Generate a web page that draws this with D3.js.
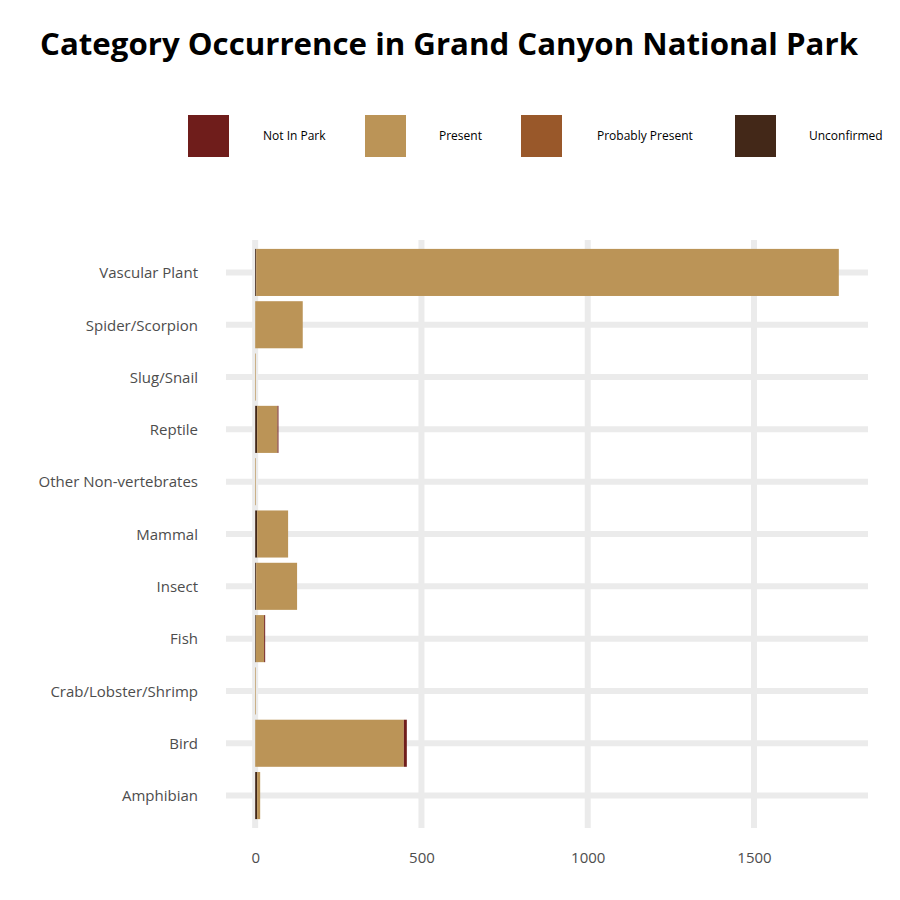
<!DOCTYPE html>
<html>
<head>
<meta charset="utf-8">
<script src="https://cdn.jsdelivr.net/npm/d3@7"></script>
<style>
  body { margin: 0; background: #fff; }
  text { font-family: "Open Sans", "DejaVu Sans", sans-serif; }
</style>
</head>
<body>
<script>
// categories, bottom to top as in the picture
var categories = ["Amphibian", "Bird", "Crab/Lobster/Shrimp", "Fish", "Insect", "Mammal",
    "Other Non-vertebrates", "Reptile", "Slug/Snail", "Spider/Scorpion", "Vascular Plant"];
var statuses = ["Not In Park", "Present", "Probably Present", "Unconfirmed"];
var colors = ["#6f1d1b", "#bb9457", "#99582a", "#432818"];

// counts per category, same order as categories
var notInPark       = [0, 9, 0, 3, 0, 0, 0, 3, 0, 0, 0];
var present         = [9, 447, 2, 25, 123, 93, 2, 61, 2, 143, 1752];
var probablyPresent = [0, 0, 0, 0, 0, 0, 0, 0, 0, 0, 0];
var unconfirmed     = [6, 0, 0, 2, 3, 6, 0, 6, 0, 0, 3];
var xTicks = [0, 500, 1000, 1500];

var rows = categories.map(function(c, i) {
    return {category: c, "Not In Park": notInPark[i], "Present": present[i],
        "Probably Present": probablyPresent[i], "Unconfirmed": unconfirmed[i]};
});

var width = 900, height = 900;
var svg = d3.select("body").append("svg").attr("width", width).attr("height", height);

var panelLeft = 226, panelRight = 868, panelTop = 240, panelBottom = 828;

// stack leftmost first: Unconfirmed, Probably Present, Present, Not In Park
var stackOrder = statuses.slice().reverse();
var series = d3.stack().keys(stackOrder)(rows);
var maxVal = d3.max(series[series.length - 1], function(d) { return d[1]; });

var x = d3.scaleLinear()
    .domain([-0.05 * maxVal, maxVal * 1.05])
    .range([panelLeft, panelRight]);

var y = d3.scaleBand()
    .domain(categories.slice().reverse())
    .range([panelTop, panelBottom])
    .paddingInner(0.1).paddingOuter(0.17);

// grid
svg.append("g").selectAll("line")
    .data(categories).enter().append("line")
    .attr("x1", panelLeft).attr("x2", panelRight)
    .attr("y1", function(d) { return y(d) + y.bandwidth() / 2; })
    .attr("y2", function(d) { return y(d) + y.bandwidth() / 2; })
    .style("stroke", "#ebebeb").style("stroke-width", 6);

svg.append("g").selectAll("line")
    .data(xTicks).enter().append("line")
    .attr("x1", function(d) { return x(d); }).attr("x2", function(d) { return x(d); })
    .attr("y1", panelTop).attr("y2", panelBottom)
    .style("stroke", "#ebebeb").style("stroke-width", 6);

// bars
svg.append("g").selectAll("g")
    .data(series).enter().append("g")
    .style("fill", function(s) { return colors[statuses.indexOf(s.key)]; })
    .selectAll("rect")
    .data(function(s) { return s; }).enter().append("rect")
    .attr("x", function(d) { return x(d[0]); })
    .attr("width", function(d) { return Math.max(0, x(d[1]) - x(d[0])); })
    .attr("y", function(d) { return y(d.data.category); })
    .attr("height", y.bandwidth());

// axes
var yAxis = svg.append("g")
    .attr("transform", "translate(" + (panelLeft - 28) + ",1)")
    .call(d3.axisLeft(y).tickSize(0).tickPadding(0));
yAxis.select(".domain").remove();
yAxis.selectAll("text").style("font-size", "15px").style("fill", "#4d4d4d");

var xAxis = svg.append("g")
    .attr("transform", "translate(0," + (panelBottom + 8) + ")")
    .call(d3.axisBottom(x).tickValues(xTicks).tickFormat(d3.format("d")).tickSize(0).tickPadding(16));
xAxis.select(".domain").remove();
xAxis.selectAll("text").style("font-size", "15px").style("fill", "#4d4d4d");

// title
svg.append("text")
    .attr("x", 449).attr("y", 55)
    .attr("text-anchor", "middle")
    .attr("textLength", 818).attr("lengthAdjust", "spacingAndGlyphs")
    .style("font-size", "31px").style("font-weight", "bold").style("fill", "#000")
    .text("Category Occurrence in Grand Canyon National Park");

// legend
var legendX = [188, 365, 521, 735];
var legendLabelX = [263, 439, 597, 809];
var legend = svg.append("g").selectAll("g")
    .data(statuses).enter().append("g");
legend.append("rect")
    .attr("x", function(d, i) { return legendX[i]; })
    .attr("y", 115).attr("width", 41).attr("height", 42)
    .style("fill", function(d, i) { return colors[i]; });
legend.append("text")
    .attr("x", function(d, i) { return legendLabelX[i]; })
    .attr("y", 140)
    .style("font-size", "12px").style("fill", "#000")
    .text(function(d) { return d; });
</script>
</body>
</html>
